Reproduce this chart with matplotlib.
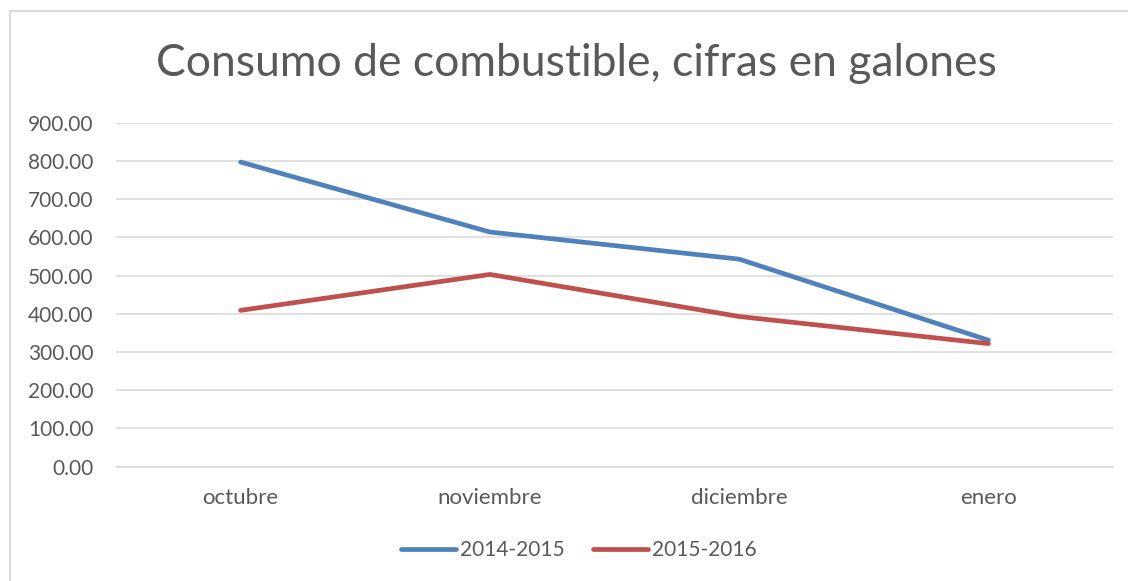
import matplotlib
matplotlib.use('Agg')
import matplotlib.pyplot as plt
from matplotlib.lines import Line2D

# Data
months = ['octubre', 'noviembre', 'diciembre', 'enero']
s_2014_2015 = [797, 614, 543, 331]
s_2015_2016 = [409, 503, 393, 322]
yticks = [0, 100, 200, 300, 400, 500, 600, 700, 800, 900]

plt.rcParams['font.family'] = ['Lato', 'DejaVu Sans']
txt = '#595959'
grid = '#D9D9D9'

W, H = 1128, 581
fig = plt.figure(figsize=(W / 100, H / 100), dpi=100)
ax = fig.add_axes([116 / W, 1 - 466.7 / H, (1113 - 116) / W, (466.7 - 122.7) / H])

x = range(len(months))
ax.plot(x, s_2014_2015, color='#4F81BD', lw=3.4, solid_capstyle='round',
        solid_joinstyle='round', label='2014-2015', zorder=3)
ax.plot(x, s_2015_2016, color='#C0504D', lw=3.4, solid_capstyle='round',
        solid_joinstyle='round', label='2015-2016', zorder=3)

ax.set_xlim(-0.5, len(months) - 0.5)
ax.set_ylim(0, 900)
ax.set_yticks(yticks)
ax.set_yticklabels(['%.2f' % v for v in yticks])
ax.set_xticks(list(x))
ax.set_xticklabels(months)
ax.tick_params(axis='y', length=0, pad=16, labelsize=15, labelcolor=txt)
ax.tick_params(axis='x', length=0, pad=15, labelsize=16, labelcolor=txt)
ax.yaxis.grid(True, color=grid, lw=1.1)
ax.set_axisbelow(True)
for s in ['top', 'right', 'left']:
    ax.spines[s].set_visible(False)
ax.spines['bottom'].set_color(grid)
ax.spines['bottom'].set_linewidth(1.1)

fig.text(576 / W, 1 - 64 / H, 'Consumo de combustible, cifras en galones',
         ha='center', va='center', fontsize=32, color=txt)

leg = fig.legend(loc='center', bbox_to_anchor=(579 / W, 1 - 550 / H), ncol=2,
                 frameon=False, fontsize=15, handlelength=2.65, handletextpad=0.2,
                 columnspacing=1.35)
for t in leg.get_texts():
    t.set_color(txt)

# outer chart border (only top and left edges are visible)
fig.add_artist(Line2D([10 / W, 1], [1 - 11 / H] * 2, color=grid, lw=1.5))
fig.add_artist(Line2D([10 / W] * 2, [1 - 11 / H, 0], color=grid, lw=1.5))

fig.savefig('out.png', dpi=100, facecolor='white')
